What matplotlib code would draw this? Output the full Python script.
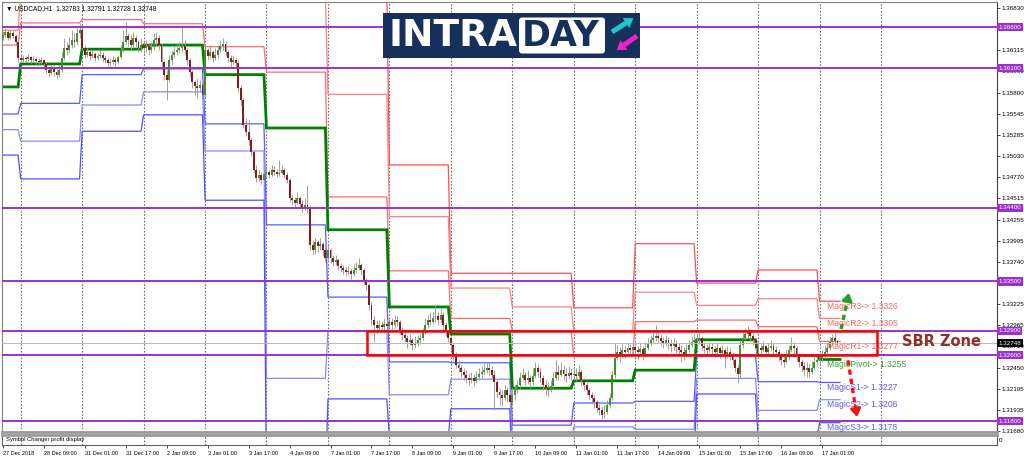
"""
USDCAD H1 with Magic pivot levels, round-number levels and SBR zone
"""

import numpy as np
import matplotlib.pyplot as plt
from matplotlib.patches import Rectangle, FancyBboxPatch, FancyArrow

plt.rcParams['font.family'] = ['Liberation Sans', 'DejaVu Sans']

# ---------------------------------------------------------------------------- #
# Candles: H1 bars, 27 Dec 2018 17:00 -> 17 Jan 2019 07:00
# prices are pips above 1.3000, open of each bar = close of the previous one
# ---------------------------------------------------------------------------- #
first_open = 647
close_pips = [
    650, 654, 647, 653, 649, 642, 622,                                   # 27 Dec
    620, 622, 621, 623, 620, 621, 619, 617, 620, 615, 608, 604,
    610, 605, 602, 608, 622, 634, 632, 638, 644, 642, 653, 656,          # 28 Dec
    634, 626, 630, 625, 627, 622, 625, 626, 622, 620, 616, 617,
    620, 617, 623, 632, 642, 649, 644, 638, 647, 642, 634, 638,          # 31 Dec
    634, 637, 632, 636, 644, 647, 638, 617, 602, 595, 620, 626,
    630, 632, 634, 637, 632, 620, 605, 593, 588, 586, 589, 577,          # 2 Jan
    632, 625, 630, 622, 626, 632, 637, 639, 630, 622, 617, 620,
    616, 586, 571, 541, 532, 522, 508, 486, 476, 480, 474, 481,          # 3 Jan
    483, 480, 486, 483, 481, 482, 486, 480, 474, 452, 449, 446,
    452, 444, 439, 443, 439, 394, 388, 398, 393, 396, 388, 379,          # 4 Jan
    388, 379, 374, 376, 369, 366, 364, 362, 363, 359, 364, 366,
    370, 364, 352, 346, 321, 303, 297, 293, 297, 295, 298, 296,          # 7 Jan
    301, 297, 303, 301, 291, 285, 281, 276, 279, 273, 275, 279,
    281, 288, 297, 303, 301, 305, 308, 303, 309, 297, 288, 281,          # 8 Jan
    273, 260, 248, 245, 240, 236, 232, 230, 232, 229, 234, 237,
    240, 242, 245, 242, 236, 228, 215, 212, 208, 218, 212, 203,          # 9 Jan
    212, 218, 224, 232, 236, 230, 232, 228, 235, 245, 240, 232,
    224, 220, 218, 223, 232, 240, 236, 242, 237, 235, 238, 236,          # 10 Jan
    237, 235, 240, 230, 224, 218, 212, 208, 203, 196, 193, 187,
    191, 200, 208, 236, 257, 264, 260, 266, 264, 269, 266, 270,          # 11 Jan
    266, 264, 268, 260, 269, 274, 279, 281, 284, 281, 277, 275,
    279, 274, 271, 274, 270, 266, 264, 260, 266, 273, 276, 279,          # 14 Jan
    279, 281, 271, 269, 266, 270, 268, 264, 269, 263, 266, 259,
    264, 260, 254, 245, 237, 273, 281, 286, 288, 284, 279, 269,          # 15 Jan
    269, 266, 271, 264, 269, 271, 266, 264, 259, 254, 252, 258,
    266, 271, 269, 259, 252, 247, 242, 245, 240, 245, 252, 254,          # 16 Jan
    257, 259, 264, 269, 276, 281, 278, 275,                              # 17 Jan
]
high_pips = [
    655, 659, 656, 656, 655, 651, 644,
    626, 626, 625, 627, 625, 625, 623, 622, 623, 621, 617, 611,
    614, 612, 609, 614, 630, 647, 642, 648, 656, 653, 659, 665,
    659, 638, 634, 632, 632, 630, 628, 632, 630, 626, 623, 622,
    625, 623, 626, 638, 656, 666, 653, 650, 654, 650, 644, 647,
    642, 644, 639, 642, 653, 654, 650, 639, 620, 608, 626, 632,
    637, 641, 642, 662, 644, 634, 622, 608, 595, 598, 595, 593,
    638, 634, 637, 632, 634, 638, 644, 647, 642, 632, 626, 626,
    622, 620, 589, 574, 549, 547, 525, 510, 492, 486, 483, 488,
    491, 486, 492, 491, 487, 498, 492, 488, 483, 476, 455, 453,
    459, 454, 449, 452, 468, 443, 401, 403, 401, 403, 398, 391,
    394, 391, 382, 382, 379, 372, 370, 368, 369, 366, 371, 374,
    379, 372, 366, 354, 348, 325, 309, 303, 303, 302, 305, 303,
    305, 305, 309, 308, 303, 295, 288, 285, 286, 281, 284, 285,
    287, 293, 305, 309, 313, 313, 321, 313, 318, 313, 301, 291,
    284, 275, 264, 254, 248, 245, 242, 238, 240, 237, 241, 245,
    247, 251, 252, 252, 247, 242, 230, 220, 218, 224, 221, 215,
    220, 224, 230, 240, 245, 240, 242, 236, 245, 252, 249, 245,
    236, 230, 228, 230, 240, 254, 248, 252, 248, 245, 247, 245,
    247, 245, 248, 242, 232, 228, 220, 215, 212, 206, 201, 198,
    200, 206, 214, 242, 275, 273, 270, 274, 271, 275, 274, 276,
    274, 271, 275, 271, 276, 281, 285, 288, 297, 291, 286, 282,
    285, 282, 280, 281, 279, 275, 273, 270, 274, 279, 284, 286,
    286, 288, 284, 276, 274, 276, 275, 271, 275, 271, 273, 269,
    271, 269, 264, 257, 248, 279, 288, 293, 296, 292, 287, 281,
    276, 274, 277, 273, 275, 279, 275, 271, 268, 263, 259, 266,
    273, 282, 276, 271, 262, 256, 252, 252, 249, 253, 258, 262,
    263, 266, 271, 276, 282, 286, 287, 279,
]
low_pips = [
    644, 648, 644, 645, 647, 638, 617,
    616, 617, 617, 619, 616, 617, 615, 614, 615, 611, 604, 600,
    602, 600, 597, 599, 605, 620, 626, 628, 634, 636, 638, 647,
    632, 622, 623, 620, 622, 619, 620, 622, 617, 616, 612, 612,
    615, 612, 615, 622, 630, 639, 637, 632, 634, 636, 630, 630,
    628, 630, 626, 628, 632, 638, 632, 612, 595, 571, 593, 614,
    622, 626, 628, 630, 626, 614, 599, 586, 577, 574, 581, 574,
    575, 620, 622, 617, 620, 622, 630, 632, 625, 617, 611, 614,
    610, 581, 565, 537, 527, 516, 503, 482, 471, 472, 469, 471,
    477, 476, 479, 480, 477, 479, 481, 476, 470, 447, 443, 441,
    444, 439, 435, 437, 433, 388, 382, 383, 386, 388, 381, 374,
    376, 372, 369, 370, 364, 362, 359, 357, 358, 353, 357, 360,
    364, 358, 347, 340, 315, 297, 276, 287, 291, 290, 291, 291,
    293, 292, 293, 296, 286, 279, 276, 269, 273, 266, 269, 271,
    274, 279, 286, 293, 296, 298, 301, 297, 299, 291, 284, 276,
    266, 254, 245, 240, 234, 230, 226, 224, 226, 223, 226, 230,
    232, 236, 238, 236, 232, 193, 208, 199, 198, 206, 203, 196,
    200, 206, 214, 220, 230, 224, 225, 220, 224, 232, 234, 228,
    218, 212, 209, 215, 220, 230, 230, 235, 230, 228, 231, 230,
    230, 229, 232, 224, 218, 212, 206, 201, 196, 191, 187, 182,
    184, 189, 196, 206, 232, 254, 252, 258, 257, 260, 259, 262,
    259, 254, 260, 254, 258, 266, 271, 275, 277, 275, 271, 269,
    271, 268, 264, 266, 263, 259, 252, 254, 258, 264, 270, 273,
    273, 275, 266, 263, 260, 264, 262, 258, 262, 257, 259, 245,
    257, 254, 248, 240, 226, 232, 269, 279, 281, 277, 273, 264,
    263, 260, 264, 258, 262, 265, 260, 258, 253, 248, 246, 251,
    254, 264, 262, 253, 246, 240, 235, 234, 234, 237, 242, 247,
    249, 252, 257, 262, 266, 273, 274, 273,
]

# ---------------------------------------------------------------------------- #
# Magic pivot levels per day (pips above 1.3000)
# 27 Dec, 28 Dec, 31 Dec, 2 Jan, 3 Jan, 4 Jan, 7 Jan, 8 Jan, 9 Jan, 10 Jan,
# 11 Jan, 14 Jan, 15 Jan, 16 Jan, 17 Jan
# ---------------------------------------------------------------------------- #
day_bars = [7] + [24] * 13 + [9]
pivot_pips = [587, 615, 633, 638, 602, 537, 413, 319, 286, 220, 229, 242, 279, 260, 255]
r1_pips = [638, 665, 669, 664, 636, 605, 453, 363, 305, 290, 259, 301, 303, 295, 277]
r2_pips = [656, 700, 705, 700, 690, 700, 578, 429, 342, 319, 290, 337, 321, 329, 305]
r3_pips = [700, 740, 745, 740, 740, 790, 700, 492, 360, 360, 318, 396, 348, 364, 326]
s1_pips = [554, 567, 602, 609, 542, 419, 331, 252, 251, 175, 202, 204, 259, 228, 227]
s2_pips = [535, 521, 565, 581, 509, 232, 290, 212, 231, 150, 173, 170, 232, 193, 206]
s3_pips = [504, 475, 533, 553, 449, 100, 207, 160, 195, 120, 140, 130, 213, 160, 178]

round_levels = [1.36600, 1.36100, 1.34400, 1.33500, 1.32900, 1.32600, 1.31800]
zone_top, zone_bottom = 1.32900, 1.32600
last_price = 1.32748
header = '\u25bc USDCAD,H1  1.32783 1.32791 1.32728 1.32748'

price_ticks = [1.36830, 1.36315, 1.36060, 1.35800, 1.35545, 1.35285,
               1.35030, 1.34770, 1.34515, 1.34255, 1.33995, 1.33740,
               1.33225, 1.32965, 1.32710, 1.32450, 1.32195, 1.31935, 1.31680]
tick_bars = [-7, 9, 25, 41, 57, 73, 89, 105, 121, 137, 153, 169, 185, 201,
             217, 233, 249, 265, 281, 297, 313]
tick_labels = ['27 Dec 2018', '28 Dec 09:00', '31 Dec 01:00', '31 Dec 17:00',
               '2 Jan 09:00', '3 Jan 01:00', '3 Jan 17:00', '4 Jan 09:00',
               '7 Jan 01:00', '7 Jan 17:00', '8 Jan 09:00', '9 Jan 01:00',
               '9 Jan 17:00', '10 Jan 09:00', '11 Jan 01:00', '11 Jan 17:00',
               '14 Jan 09:00', '15 Jan 01:00', '15 Jan 17:00', '16 Jan 09:00',
               '17 Jan 01:00']

# ---------------------------------------------------------------------------- #
# Derived arrays
# ---------------------------------------------------------------------------- #
base = 1.3
closes = base + np.array(close_pips) / 1e4
opens = np.concatenate([[base + first_open / 1e4], closes[:-1]])
highs = np.maximum(base + np.array(high_pips) / 1e4, np.maximum(opens, closes))
lows = np.minimum(base + np.array(low_pips) / 1e4, np.minimum(opens, closes))
bar_idx = np.arange(len(closes)) - 7
line_idx = np.arange(sum(day_bars)) - 7


def expand(levels):
    return base + np.repeat(levels, day_bars) / 1e4


# ---------------------------------------------------------------------------- #
# Figure
# ---------------------------------------------------------------------------- #
fig = plt.figure(figsize=(10.24, 4.59), dpi=100)
ax = fig.add_axes([2 / 1024, 27 / 459, 995 / 1024, 430 / 459])
sub_ax = fig.add_axes([2 / 1024, 14 / 459, 995 / 1024, 10 / 459])

xlim = (-7.3, 381.3)
ax.set_xlim(xlim)
ax.set_ylim(1.316666, 1.369046)

# day separators
for k in range(15):
    for a in (ax, sub_ax):
        a.axvline(24 * k, color='#707070', lw=0.8, ls=(0, (1.5, 1.5)), zorder=1)

# pivot lines
line_styles = [(r3_pips, '#ff5050', 0.9), (r2_pips, '#ff8080', 0.9),
               (r1_pips, '#ff6a6a', 0.9), (s1_pips, '#5a5aff', 0.9),
               (s2_pips, '#8a8aff', 0.9), (s3_pips, '#5050ff', 0.9),
               (pivot_pips, '#008000', 2.0)]
for levels, colour, lw in line_styles:
    ax.plot(line_idx, expand(levels), color=colour, lw=lw, zorder=2,
            solid_joinstyle='miter')

# candles
up = closes >= opens
body = closes - opens
body = np.where(np.abs(body) < 0.00002, 0.00002, body)
ax.vlines(bar_idx, lows, highs, color='#9a9a9a', lw=0.65, zorder=3)
ax.bar(bar_idx[up], body[up], bottom=opens[up], width=0.75,
       color='#3f8f2f', linewidth=0, zorder=4)
ax.bar(bar_idx[~up], body[~up], bottom=opens[~up], width=0.75,
       color='#8b1a1a', linewidth=0, zorder=4)

# round-number levels with axis labels
for lvl in round_levels:
    ax.axhline(lvl, color='#9932cc', lw=1.4, zorder=5)
    ax.text(1.0013, lvl, f'{lvl:.5f}', transform=ax.get_yaxis_transform(),
            fontsize=4.5, color='white', ha='left', va='center', zorder=10,
            clip_on=False,
            bbox=dict(boxstyle='square,pad=0.25', fc='#9932cc', ec='none'))

ax.axhline(last_price, color='#b8b8b8', lw=0.7, zorder=5)
ax.text(1.0013, last_price, f'{last_price:.5f}', transform=ax.get_yaxis_transform(),
        fontsize=4.5, color='white', ha='left', va='center', zorder=11,
        clip_on=False, bbox=dict(boxstyle='square,pad=0.25', fc='black', ec='none'))

# SBR zone
ax.add_patch(Rectangle((135.4, zone_bottom), 334.4 - 135.4, zone_top - zone_bottom,
                       fill=False, ec='#ff0000', lw=1.8, zorder=6))
ax.text(359.8, 1.32765, 'SBR Zone', color='#962d2d', fontsize=10.5,
        fontweight='bold', family='DejaVu Sans', ha='center', va='center', zorder=7)

# level labels for the current day
labels = [('MagicR3', r3_pips, '#ff6464'), ('MagicR2', r2_pips, '#ff6464'),
          ('MagicR1', r1_pips, '#ff6464'), ('MagicPivot', pivot_pips, '#3c9c3c'),
          ('MagicS1', s1_pips, '#5c5cff'), ('MagicS2', s2_pips, '#5c5cff'),
          ('MagicS3', s3_pips, '#5c5cff')]
for name, levels, colour in labels:
    value = base + levels[-1] / 1e4
    ax.text(315.0, value - 0.00004, f'{name}-> {value:.4f}', color=colour,
            fontsize=6.2, ha='left', va='top', zorder=7)

# dashed arrows
for (x0, y0), (x1, y1), colour in [((320.4, 1.3292), (323.5, 1.3336), '#22a022'),
                                    ((323.1, 1.3254), (326.6, 1.3185), '#ff1010')]:
    fx, fy = x0 + 0.8 * (x1 - x0), y0 + 0.8 * (y1 - y0)
    ax.plot([x0, fx], [y0, fy], color=colour, lw=2.4, ls=(0, (1.6, 1.2)), zorder=8)
    ax.annotate('', xy=(x1, y1), xytext=(fx, fy), zorder=8,
                arrowprops=dict(arrowstyle='-|>,head_length=0.45,head_width=0.3',
                                color=colour, lw=2.0, shrinkA=0, shrinkB=0))

ax.text(0.004, 0.994, header, transform=ax.transAxes, fontsize=4.8,
        ha='left', va='top', color='black', zorder=10)

# axes styling
ax.set_xticks([])
ax.yaxis.tick_right()
ax.set_yticks(price_ticks)
ax.set_yticklabels([f'{p:.5f}' for p in price_ticks])
ax.tick_params(axis='y', labelsize=4.5, length=2, pad=1.5, width=0.5, colors='black')
for side in ('top', 'left'):
    ax.spines[side].set_color('#808080')
    ax.spines[side].set_linewidth(0.8)
ax.spines['right'].set_color('#404040')
ax.spines['right'].set_linewidth(0.8)
ax.spines['bottom'].set_color('#9a9a9a')
ax.spines['bottom'].set_linewidth(2.0)

# indicator sub-window
sub_ax.set_xlim(xlim)
sub_ax.set_ylim(0, 1)
sub_ax.set_yticks([])
sub_ax.text(0.004, 0.5, 'Symbol Changer profit display', transform=sub_ax.transAxes,
            fontsize=4.2, ha='left', va='center')
sub_ax.text(1.002, 0.45, '0', transform=sub_ax.transAxes, fontsize=4.5,
            ha='left', va='center')
sub_ax.set_xticks(tick_bars)
sub_ax.set_xticklabels(tick_labels)
for lab in sub_ax.get_xticklabels():
    lab.set_horizontalalignment('left')
sub_ax.tick_params(axis='x', labelsize=4.0, length=2.5, pad=1.5, width=0.5)
sub_ax.spines['top'].set_color('#9a9a9a')
sub_ax.spines['top'].set_linewidth(2.0)
for side in ('left', 'right', 'bottom'):
    sub_ax.spines[side].set_color('#606060')
    sub_ax.spines[side].set_linewidth(0.8)

# ---------------------------------------------------------------------------- #
# INTRADAY logo (pixel coordinates)
# ---------------------------------------------------------------------------- #
logo = fig.add_axes([0, 0, 1, 1], zorder=20)
logo.set_xlim(0, 1024)
logo.set_ylim(459, 0)
logo.axis('off')
logo.patch.set_alpha(0)
logo.add_patch(Rectangle((383, 13), 257, 45, fc='#15305a', ec='none'))
logo.text(389, 36.5, 'INTRA', color='white', fontsize=27, fontweight='bold',
          family='DejaVu Sans', ha='left', va='center')
logo.add_patch(FancyBboxPatch((519, 17.5), 86, 36, boxstyle='round,pad=0,rounding_size=3',
                              fc='white', ec='none'))
logo.text(522, 36.5, 'DAY', color='#15305a', fontsize=25, fontweight='bold',
          family='DejaVu Sans', ha='left', va='center')
logo.add_patch(FancyArrow(612, 32, 14, -9, width=5, head_width=12, head_length=9,
                          length_includes_head=False, fc='#1cc6cb', ec='none'))
logo.add_patch(FancyArrow(637, 36, -13, 9, width=5, head_width=12, head_length=9,
                          length_includes_head=False, fc='#f11fc4', ec='none'))

fig.savefig('out.png', dpi=100)
plt.close()
